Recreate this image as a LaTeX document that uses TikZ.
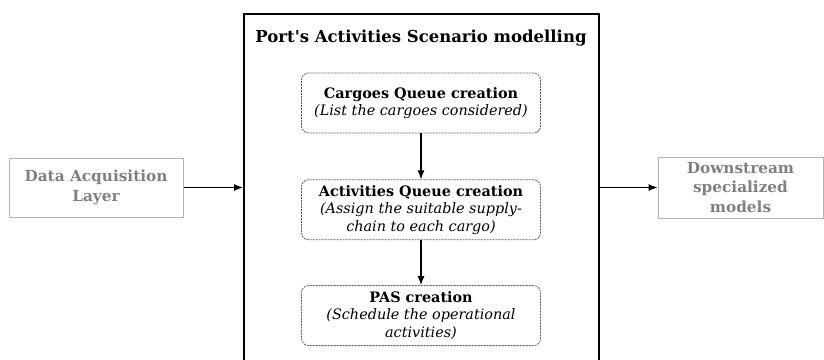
\documentclass[tikz,border=0pt]{standalone}
\usepackage{fontspec}
\setmainfont{DejaVu Serif}[Ligatures=TeXOff]
\usetikzlibrary{positioning,arrows.meta}
\begin{document}
\begin{tikzpicture}
    [x=1pt,y=-1pt
    ,>={Latex[length=9pt,width=7pt]}
    ,side/.style={draw=gray!60,line width=1pt,text=gray,align=center
      ,font=\fontsize{15.3}{19.5}\selectfont\bfseries,minimum height=59pt}
    ,stage/.style={draw=gray!70!black,line width=0.8pt,dash pattern=on 2pt off 1pt
      ,rounded corners=7pt,align=center,font=\fontsize{14.4}{17.5}\selectfont
      ,minimum width=239pt,minimum height=60pt,inner sep=1pt}
    ,node distance=46pt
    ]

    \useasboundingbox (0,0) rectangle (824,359);

    % outer frame, cut by the page at the bottom
    \node[draw,line width=1.6pt,minimum width=355pt,minimum height=370pt
      ,anchor=north west,inner sep=0pt] (frame) at (243,13) {};
    \node[font=\fontsize{16.5}{19}\selectfont\bfseries] (title) at (421,38)
      {Port's Activities Scenario modelling};

    \node[stage] (cq) at (421,103)
      {\textbf{Cargoes Queue creation}\\ \textit{(List the cargoes considered)}};
    \node[stage,below=of cq] (aq)
      {\textbf{Activities Queue creation}\\ \textit{(Assign the suitable supply-}\\ \textit{chain to each cargo)}};
    \node[stage,below=45pt of aq] (pas)
      {\textbf{PAS creation}\\ \textit{(Schedule the operational}\\ \textit{activities)}};

    \node[side,minimum width=174pt] (dal) at (96,187.5) {Data Acquisition\\ Layer};
    \node[side,minimum width=165pt,minimum height=61pt] (dsm) at (740.5,187.5)
      {Downstream\\ specialized\\ models};

    \draw [->,line width=1.2pt] (cq) -- (aq);
    \draw [->,line width=1.2pt] (aq) -- (pas);
    \draw [->,line width=1.2pt] (dal) -- (dal -| frame.west);
    \draw [->,line width=1.2pt] (frame.east |- dsm) -- (dsm);

  \end{tikzpicture}
\end{document}
